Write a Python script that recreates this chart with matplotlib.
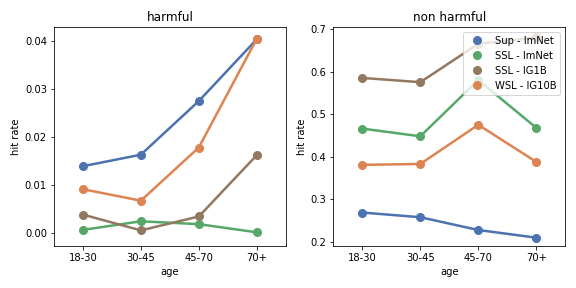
import matplotlib
matplotlib.use("Agg")
import matplotlib.pyplot as plt
from matplotlib.ticker import MultipleLocator
import seaborn as sns

ages = ["18-30", "30-45", "45-70", "70+"]
models = ["Sup - ImNet", "SSL - ImNet", "SSL - IG1B", "WSL - IG10B"]

harmful = {
    "Sup - ImNet": [0.0139, 0.0163, 0.0275, 0.0404],
    "SSL - ImNet": [0.0006, 0.0024, 0.0018, 0.0001],
    "SSL - IG1B": [0.0038, 0.0005, 0.0034, 0.0162],
    "WSL - IG10B": [0.0091, 0.0067, 0.0178, 0.0405],
}
non_harmful = {
    "Sup - ImNet": [0.269, 0.258, 0.228, 0.210],
    "SSL - ImNet": [0.466, 0.448, 0.580, 0.468],
    "SSL - IG1B": [0.585, 0.575, 0.665, 0.680],
    "WSL - IG10B": [0.381, 0.383, 0.475, 0.388],
}

deep = sns.color_palette("deep")
colors = {"Sup - ImNet": deep[0], "SSL - ImNet": deep[2],
          "SSL - IG1B": deep[5], "WSL - IG10B": deep[1]}

fig, axes = plt.subplots(1, 2, figsize=(8, 4), dpi=72)
x = range(len(ages))

for ax, data, title in zip(axes, [harmful, non_harmful], ["harmful", "non harmful"]):
    for m in models:
        ax.plot(x, data[m], color=colors[m], lw=2.5, marker="o", ms=8, label=m)
    ax.set_xticks(list(x))
    ax.set_xticklabels(ages)
    ax.set_xlim(-0.5, 3.5)
    ax.set_xlabel("age")
    ax.set_ylabel("hit rate")
    ax.set_title(title)

axes[0].yaxis.set_major_locator(MultipleLocator(0.01))
axes[0].set_ylim(-0.0028, 0.043)
axes[1].set_ylim(0.19, 0.705)

handles = [plt.Line2D([], [], ls="none", marker="o", ms=8, color=colors[m]) for m in models]
axes[1].legend(handles, models, loc="upper right")

fig.tight_layout()
fig.savefig("out.png")
